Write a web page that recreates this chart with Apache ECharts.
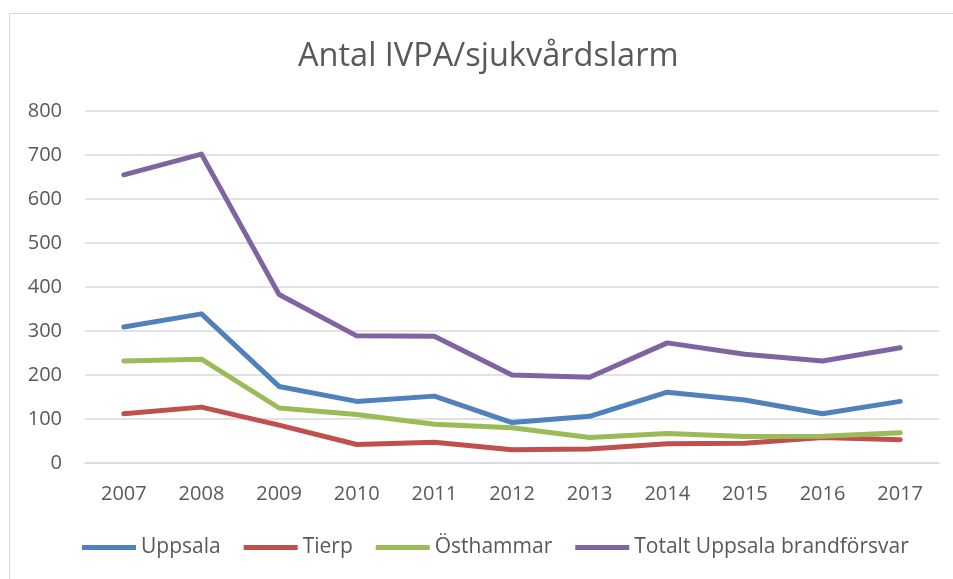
<!DOCTYPE html>
<html>
<head>
<meta charset="utf-8">
<script src="https://cdn.jsdelivr.net/npm/echarts@6/dist/echarts.min.js"></script>
<style>
  html, body { margin: 0; padding: 0; background: #fff; }
  #chart { width: 953px; height: 579px; }
</style>
</head>
<body>
<div id="chart"></div>
<script>
// Years on the category axis
const years = ['2007', '2008', '2009', '2010', '2011', '2012', '2013', '2014', '2015', '2016', '2017'];

// Alarm counts per district
const uppsala  = [309, 339, 174, 140, 152, 92, 106, 161, 143, 112, 140];
const tierp    = [112, 127, 86, 42, 47, 30, 32, 44, 45, 58, 53];
const osthammar = [232, 236, 125, 110, 88, 80, 58, 67, 60, 61, 69];
const totalt   = [655, 702, 383, 289, 288, 200, 195, 273, 247, 232, 262];

const seriesNames = ['Uppsala', 'Tierp', 'Östhammar', 'Totalt Uppsala brandförsvar'];
const seriesColors = ['#4F81BD', '#C0504D', '#9BBB59', '#8064A2'];
const seriesData = [uppsala, tierp, osthammar, totalt];

const font = '"Open Sans", "Noto Sans", sans-serif';
const textColor = '#595959';

const chart = echarts.init(document.getElementById('chart'), null, { renderer: 'canvas' });

chart.setOption({
  backgroundColor: '#ffffff',
  animation: false,
  graphic: [{
    type: 'rect',
    shape: { x: 9.5, y: 13.5, width: 1000, height: 1000 },
    style: { fill: 'none', stroke: '#D9D9D9', lineWidth: 1 },
    silent: true
  }],
  title: {
    text: 'Antal IVPA/sjukvårdslarm',
    left: 293,
    top: 35,
    textStyle: { fontFamily: font, fontSize: 32.5, fontWeight: 'normal', color: textColor }
  },
  legend: {
    bottom: 16,
    left: 77,
    icon: 'rect',
    itemWidth: 54,
    itemHeight: 5,
    itemGap: 23,
    textStyle: { fontFamily: font, fontSize: 21, color: textColor },
    data: seriesNames
  },
  grid: { left: 85, right: 14, top: 111, bottom: 116, containLabel: false },
  xAxis: {
    type: 'category',
    data: years,
    boundaryGap: true,
    axisLine: { show: true, lineStyle: { color: '#D9D9D9', width: 1.5 } },
    axisTick: { show: false },
    axisLabel: { fontFamily: font, fontSize: 20, color: textColor, margin: 21 }
  },
  yAxis: {
    type: 'value',
    min: 0,
    max: 800,
    interval: 100,
    axisLine: { show: false },
    axisTick: { show: false },
    splitLine: { lineStyle: { color: '#D9D9D9', width: 1.5 } },
    axisLabel: { fontFamily: font, fontSize: 20, color: textColor, margin: 23 }
  },
  series: seriesNames.map((name, i) => ({
    name: name,
    type: 'line',
    data: seriesData[i],
    symbol: 'none',
    smooth: false,
    color: seriesColors[i],
    lineStyle: { width: 5, color: seriesColors[i], cap: 'round', join: 'round' }
  }))
});
</script>
</body>
</html>
